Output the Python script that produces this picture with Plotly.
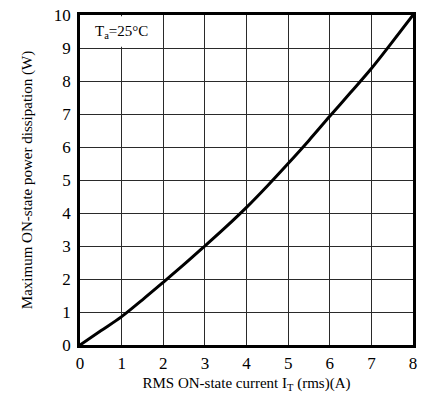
import plotly.graph_objects as go

# Data
current_a = [0, 0.5, 1, 1.5, 2, 2.5, 3, 3.5, 4, 4.5, 5, 5.5, 6, 6.5, 7, 7.5, 8]
power_w = [0, 0.43, 0.86, 1.37, 1.9, 2.44, 3.0, 3.57, 4.17, 4.82, 5.5, 6.2, 6.93, 7.65, 8.38, 9.18, 10]
x_ticks = [0, 1, 2, 3, 4, 5, 6, 7, 8]
y_ticks = [0, 1, 2, 3, 4, 5, 6, 7, 8, 9, 10]

FONT = "Liberation Serif"

fig = go.Figure()
fig.add_trace(go.Scatter(
    x=current_a, y=power_w, mode="lines",
    line=dict(color="black", width=3, shape="spline"),
    showlegend=False, hoverinfo="skip",
))

# white patch behind the Ta label (hides the grid line in that cell)
fig.add_shape(type="rect", xref="x", yref="y", x0=0.03, x1=1.97, y0=9.04, y1=9.96,
              fillcolor="white", line=dict(width=0), layer="between")

fig.add_annotation(x=1, y=9.5, xref="x", yref="y", text="T<sub>a</sub>=25°C",
                   showarrow=False, font=dict(family=FONT, size=15, color="black"))

axis_common = dict(
    showline=True, mirror=True, linecolor="black", linewidth=2.5,
    showgrid=True, gridcolor="#2a2a2a", gridwidth=1.2,
    zeroline=False, ticks="", automargin=False,
    tickfont=dict(family=FONT, size=17, color="black"),
)

fig.update_xaxes(range=[0, 8], tickvals=x_ticks, ticklabelstandoff=1,
                 title=dict(text="RMS ON-state current I<sub>T</sub> (rms)(A)",
                            font=dict(family=FONT, size=15, color="black"), standoff=6),
                 **axis_common)
fig.update_yaxes(range=[0, 10], tickvals=y_ticks, ticklabelstandoff=3,
                 title=dict(text="Maximum ON-state power dissipation (W)",
                            font=dict(family=FONT, size=15, color="black"), standoff=18),
                 **axis_common)

fig.update_layout(
    width=428, height=396,
    margin=dict(l=80, r=15, t=15, b=51),
    paper_bgcolor="white", plot_bgcolor="white",
)

fig.write_html("out.html")
